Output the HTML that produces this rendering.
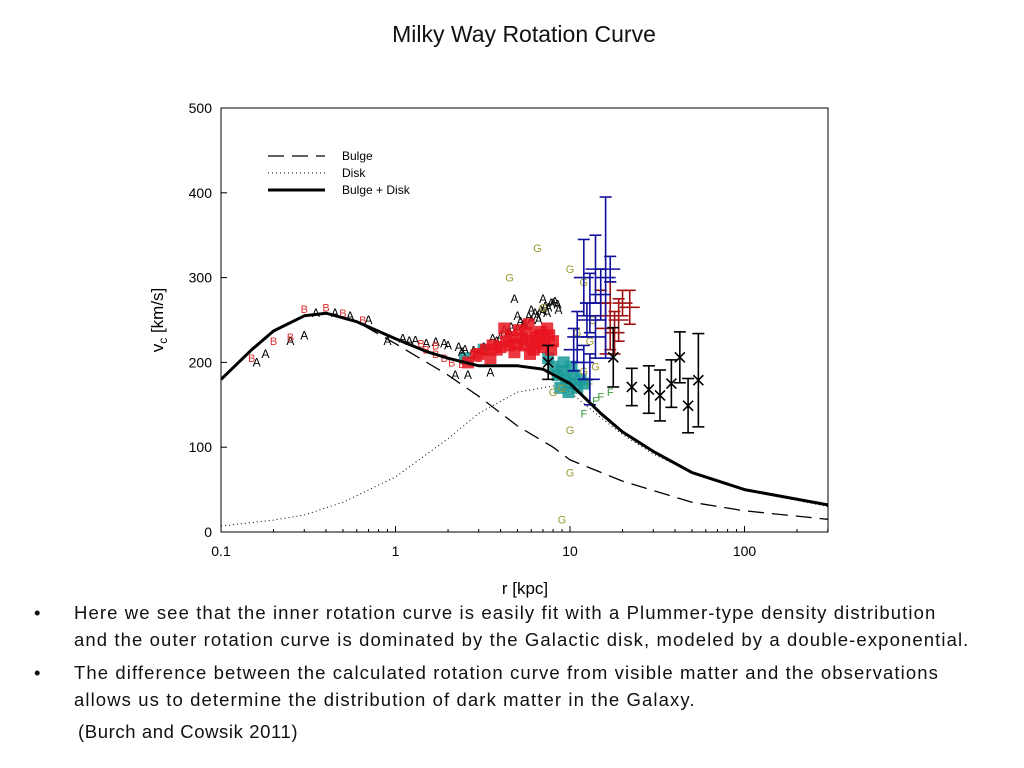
<!DOCTYPE html>
<html><head><meta charset="utf-8"><style>
body{margin:0;width:1024px;height:768px;background:#fff;font-family:"Liberation Sans",sans-serif;overflow:hidden;position:relative}
.t{position:absolute;color:#111}
ul{position:absolute;left:30px;top:599px;margin:0;padding:0;list-style:none;font-size:18.5px;letter-spacing:1.1px;line-height:27px;color:#111;white-space:nowrap}
li{position:relative;padding-left:44px;margin-bottom:6px}
li:before{content:"•";position:absolute;left:4px}
</style></head><body>
<div class="t" style="left:0;width:1048px;text-align:center;top:21px;font-size:23px">Milky Way Rotation Curve</div>
<svg id="c" width="1024" height="600" style="position:absolute;left:0;top:0" font-family="Liberation Sans, sans-serif"></svg>
<ul>
<li>Here we see that the inner rotation curve is easily fit with a Plummer-type density distribution<br>and the outer rotation curve is dominated by the Galactic disk, modeled by a double-exponential.</li>
<li>The difference between the calculated rotation curve from visible matter and the observations<br>allows us to determine the distribution of dark matter in the Galaxy.</li>
</ul>
<div class="t" style="left:78px;top:721px;font-size:18.5px;letter-spacing:0.6px">(Burch and Cowsik 2011)</div>
<script>
const xTicks=[0.1,1,10,100];
const xTickLabels=["0.1","1","10","100"];
const yTicks=[0,100,200,300,400,500];
const totalR=[0.1,0.15,0.2,0.3,0.4,0.6,1,1.5,2,3,5,7,10,15,20,30,50,100,300];
const totalV=[180,215,237,255,258,248,228,213,205,196,196,192,175,140,118,95,70,50,32];
const bulgeR=[0.1,0.15,0.2,0.3,0.4,0.6,1,2,3,5,8,10,20,50,100,300];
const bulgeV=[180,215,237,255,258,248,222,185,160,125,100,85,60,35,25,15];
const diskR=[0.1,0.2,0.3,0.5,1,2,3,5,8,10,15,20,30,50,100,300];
const diskV=[7,14,20,35,65,110,140,165,172,165,135,115,92,70,50,30];
const aR=[0.16,0.18,0.25,0.3,0.35,0.45,0.55,0.7,0.9,1.2,1.5,2,2.5,3,2.2,2.6,3.5,4,4.5,5,5.5,6,6.5,7,7.5,8,8.5,5,6,7,4.8,3.2,3.8,1.1,1.3,1.7,1.9,2.3,2.8,4.2,4.6,5.2,5.8,6.3,6.8,7.2,7.8,8.2,3.6,4.4,5.4,6.6,7.4,8.6,2.4];
const aV=[200,210,225,232,258,258,255,250,225,225,222,220,215,210,185,185,188,230,235,240,245,250,255,260,265,270,268,255,262,275,275,218,225,228,226,224,222,218,214,238,242,248,254,258,262,266,270,272,228,234,244,250,258,262,212];
const bR=[0.15,0.2,0.25,0.3,0.4,0.5,0.65,1.7,1.4,1.9,2.1,1.7,2.4,3.0,1.5,2.7];
const bV=[205,225,230,263,265,258,250,220,222,205,200,210,198,205,215,200];
const redR=[3,3.3,3.6,4,4.3,4.6,5,5.3,5.6,6,6.4,6.8,7.2,7.6,8,4.2,5.1,5.8,6.6,7.4,3.5,4.8,6.2,7,2.6,2.9,4.5,5.5,6.5,7.8,3.8,5.9];
const redV=[210,215,220,218,225,230,222,228,235,225,230,236,228,232,225,240,238,245,232,240,205,212,215,218,200,208,220,220,222,215,215,210];
const cyanR=[2.5,3.2,8,8.5,9,9.5,10,10.5,11,9.2,10.2,11.5,12,8.8,9.8,7.5];
const cyanV=[205,215,195,185,190,180,175,185,170,200,195,180,175,170,165,205];
const gR=[4.5,6.5,10,12,8,10,10,9,9,12,14,11,13,7,13.5];
const gV=[300,335,310,295,165,120,70,15,170,190,195,235,225,265,250];
const fR=[12,14,15,17,13];
const fV=[140,155,160,165,175];
const blueR=[12,13,14,15,16,17,11,12,13,12.5,14,10.5];
const blueV=[300,270,310,280,300,310,230,200,180,250,230,215];
const blueE=[45,35,40,30,95,15,30,20,30,20,25,25];
const dredR=[15,17,19,20,22,16,18];
const dredV=[270,255,250,270,265,240,235];
const dredE=[15,40,25,15,20,30,25];
const xR=[7.5,17.7,22.6,28.3,32.8,38.1,42.6,47.5,54.4];
const xV=[200,206,171,168,161,175,206,149,179];
const xE=[20,35,22,28,30,28,30,32,55];

const svg=document.getElementById('c');const NS='http://www.w3.org/2000/svg';
const X0=221,DEC=174.5,Y0=532,YS=0.848;
const sx=r=>X0+(Math.log10(r)+1)*DEC, sy=v=>Y0-v*YS;
function mk(t,a,p){const e=document.createElementNS(NS,t);for(const k in a)e.setAttribute(k,a[k]);(p||svg).appendChild(e);return e;}
let fr=mk('rect',{x:221,y:108,width:607,height:424,fill:'none',stroke:'#000','stroke-width':1});


yTicks.forEach(v=>{mk('line',{x1:221,x2:227,y1:sy(v),y2:sy(v),stroke:'#000'});
 const t=mk('text',{x:212,y:sy(v)+5,'text-anchor':'end','font-size':14});t.textContent=v;
 
 });
xTicks.forEach((r,i)=>{mk('line',{x1:sx(r),x2:sx(r),y1:532,y2:526,stroke:'#000'});
 for(let k=2;k<10;k++){const m=r*k;if(sx(m)<828)mk('line',{x1:sx(m),x2:sx(m),y1:532,y2:529,stroke:'#000'});}
 const t=mk('text',{x:sx(r),y:556,'text-anchor':'middle','font-size':14});t.textContent=xTickLabels[i];
 
 });
let xl=mk('text',{x:525,y:594,'text-anchor':'middle','font-size':17});xl.textContent='r [kpc]';


let yl=mk('text',{transform:'translate(163,320) rotate(-90)','text-anchor':'middle','font-size':17});
yl.innerHTML='v<tspan font-size="12" dy="4">c</tspan><tspan dy="-4"> [km/s]</tspan>';


const g=mk('g',{'clip-path':'url(#cp)'});
const cp=mk('clipPath',{id:'cp'});mk('rect',{x:221,y:108,width:607,height:424},cp);
function line(R,V,st,name){const d=R.map((r,i)=>(i?'L':'M')+sx(r).toFixed(1)+','+sy(V[i]).toFixed(1)).join('');
 const p=mk('path',Object.assign({d,fill:'none',stroke:'#000','stroke-linejoin':'round'},st),g);
 
 }
function letters(R,V,ch,col,name,fs){R.forEach((r,i)=>{const t=mk('text',{x:sx(r),y:sy(V[i])+4,'text-anchor':'middle','font-size':fs||11,fill:col},g);t.textContent=ch;
 
 });}
function blobs(R,V,col,name){R.forEach((r,i)=>{const e=mk('rect',{x:sx(r)-6,y:sy(V[i])-6,width:12,height:12,fill:col,opacity:0.85},g);
 
 });}
function ebar(R,V,E,col,name,cross){R.forEach((r,i)=>{const x=sx(r),y=sy(V[i]),e=E[i]*YS;
 const gg=mk('g',{stroke:col,'stroke-width':1.6,fill:'none'},g);
 
 
 mk('line',{x1:x,x2:x,y1:y-e,y2:y+e},gg);mk('line',{x1:x-6,x2:x+6,y1:y-e,y2:y-e},gg);mk('line',{x1:x-6,x2:x+6,y1:y+e,y2:y+e},gg);
 if(cross){mk('line',{x1:x-5,x2:x+5,y1:y-5,y2:y+5},gg);mk('line',{x1:x-5,x2:x+5,y1:y+5,y2:y-5},gg);}
 else{mk('line',{x1:x-10,x2:x+10,y1:y,y2:y},gg);}});}
line(diskR,diskV,{'stroke-dasharray':'1 3','stroke-width':1},'disk-curve');
line(bulgeR,bulgeV,{'stroke-dasharray':'16 8','stroke-width':1.3},'bulge-curve');
blobs(cyanR,cyanV,'#1a9a9a','cyan-data');
letters(aR,aV,'A','#000','a-data',12);
blobs(redR,redV,'#e8141e','red-data');
letters(bR,bV,'B','#e03030','b-data');
letters(gR,gV,'G','#9a9a30','g-data');
letters(fR,fV,'F','#3a9a3a','f-data');
ebar(dredR,dredV,dredE,'#a01010','darkred-data',false);
ebar(blueR,blueV,blueE,'#10109a','blue-data',false);
ebar(xR,xV,xE,'#000','x-data',true);
line(totalR,totalV,{'stroke-width':3},'bulge-disk-curve');
const leg=[['Bulge','16 8',1.3],['Disk','1 3',1],['Bulge + Disk','',3]];
leg.forEach((l,i)=>{const y=156+i*17;const ln=mk('line',{x1:268,x2:325,y1:y,y2:y,stroke:'#000','stroke-width':l[2],'stroke-dasharray':l[1]});
 
 
 const t=mk('text',{x:342,y:y+4,'font-size':12});t.textContent=l[0];
 
 });
</script>
</body></html>
